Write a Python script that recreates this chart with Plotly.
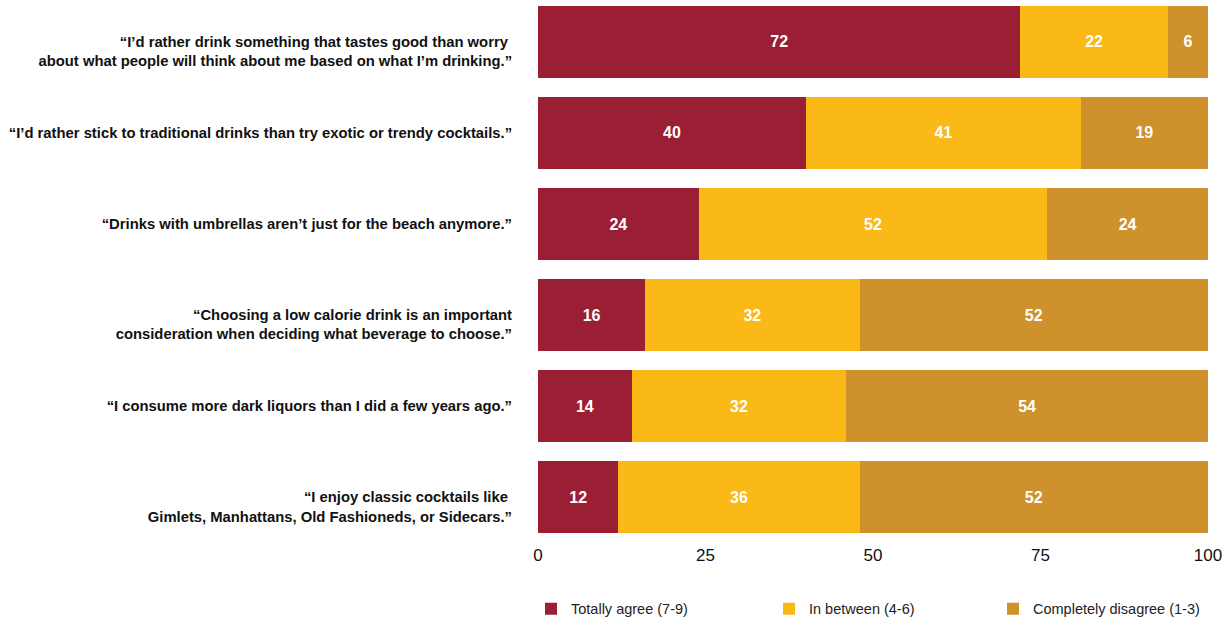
import plotly.graph_objects as go

# Survey statements (top to bottom) and response shares in percent
statements = [
    " <br>“I’d rather drink something that tastes good than worry <br>about what people will think about me based on what I’m drinking.”",
    "“I’d rather stick to traditional drinks than try exotic or trendy cocktails.”",
    "“Drinks with umbrellas aren’t just for the beach anymore.”",
    " <br>“Choosing a low calorie drink is an important<br>consideration when deciding what beverage to choose.”",
    "“I consume more dark liquors than I did a few years ago.”",
    " <br>“I enjoy classic cocktails like <br>Gimlets, Manhattans, Old Fashioneds, or Sidecars.”",
]
totally_agree = [72, 40, 24, 16, 14, 12]
in_between = [22, 41, 52, 32, 32, 36]
completely_disagree = [6, 19, 24, 52, 54, 52]

series = [
    ("Totally agree (7-9)", totally_agree, "#9B1F34", "legend"),
    ("In between (4-6)", in_between, "#FBB917", "legend2"),
    ("Completely disagree (1-3)", completely_disagree, "#CF912C", "legend3"),
]

FONT = "Liberation Sans, Arial, Helvetica, sans-serif"

fig = go.Figure()
for name, values, color, leg in series:
    fig.add_trace(go.Bar(
        name=name,
        y=statements,
        x=values,
        orientation="h",
        marker=dict(color=color, line=dict(width=0)),
        text=[str(v) for v in values],
        textposition="inside",
        insidetextanchor="middle",
        textangle=0,
        constraintext="none",
        textfont=dict(family=FONT, size=16, color="white", weight="bold"),
        legend=leg,
        hoverinfo="skip",
    ))

legend_style = dict(
    orientation="h",
    yanchor="middle",
    xanchor="left",
    y=-0.121,
    font=dict(family=FONT, size=14.5, color="#222222"),
    bgcolor="rgba(0,0,0,0)",
    itemwidth=30,
)

fig.update_layout(
    barmode="stack",
    bargap=0.212,
    width=1229,
    height=625,
    margin=dict(l=538, r=21, t=0, b=80),
    plot_bgcolor="white",
    paper_bgcolor="white",
    showlegend=True,
    legend=dict(legend_style, x=(531 - 538) / 670),
    legend2=dict(legend_style, x=(769 - 538) / 670),
    legend3=dict(legend_style, x=(993 - 538) / 670),
    uniformtext=dict(mode=False),
    xaxis=dict(
        range=[0, 100],
        tickvals=[0, 25, 50, 75, 100],
        showgrid=False,
        zeroline=False,
        showline=False,
        ticks="",
        tickfont=dict(family=FONT, size=17, color="#111111"),
        fixedrange=True,
    ),
    yaxis=dict(
        type="category",
        range=[5.503, -0.46],
        showgrid=False,
        zeroline=False,
        showline=False,
        ticks="outside",
        ticklen=22,
        tickcolor="rgba(0,0,0,0)",
        tickfont=dict(family=FONT, size=14.8, color="#111111", weight="bold"),
        fixedrange=True,
    ),
)

fig.write_html("out.html")
